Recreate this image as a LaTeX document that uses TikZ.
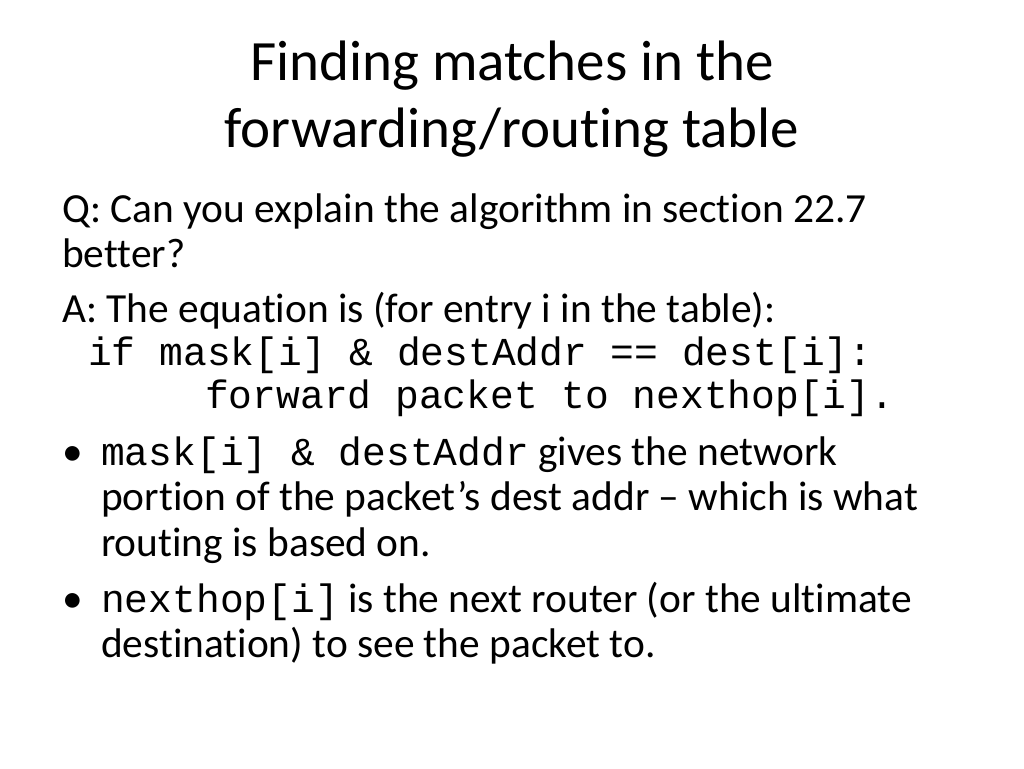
\documentclass[tikz,border=0pt]{standalone}
\usepackage{fontspec}
\setmainfont[Ligatures={NoCommon}]{Carlito}
\setmonofont{Liberation Mono}
\begin{document}
\begin{tikzpicture}[x=1pt,y=-1pt,
    title/.style = {anchor=base, inner sep=0pt, font=\fontsize{57}{66}\selectfont},
    body/.style = {anchor=base west, inner sep=0pt, font=\fontsize{41.4}{48}\selectfont},
    code/.style = {anchor=base west, inner sep=0pt, font=\fontsize{39.6}{48}\ttfamily}]
    \useasboundingbox[fill=white] (0,0) rectangle (1024,768);
    \node[title] (t1) at (512,80) {Finding matches in the};
    \node[title] (t2) at (512,147) {forwarding/routing table};
    \node[body] (q1) at (62,222) {Q: Can you explain the algorithm in section 22.7};
    \node[body] (q2) at (62,267) {better?};
    \node[body] (a1) at (62,322) {A: The equation is (for entry i in the table):};
    \node[code] (c1) at (88,365) {if mask[i] \& destAddr == dest[i]:};
    \node[code] (c2) at (205,408) {forward packet to nexthop[i].};
    \node[body] (b1) at (62,465) {•};
    \node[body] (l1) at (101,465) {{\ttfamily\fontsize{39.6}{48}\selectfont mask[i] \& destAddr} gives the network};
    \node[body] (l2) at (101,510) {portion of the packet’s dest addr – which is what};
    \node[body] (l3) at (101,556) {routing is based on.};
    \node[body] (b2) at (62,612) {•};
    \node[body] (m1) at (101,612) {{\ttfamily\fontsize{39.6}{48}\selectfont nexthop[i]} is the next router (or the ultimate};
    \node[body] (m2) at (101,657) {destination) to see the packet to.};
\end{tikzpicture}
\end{document}
